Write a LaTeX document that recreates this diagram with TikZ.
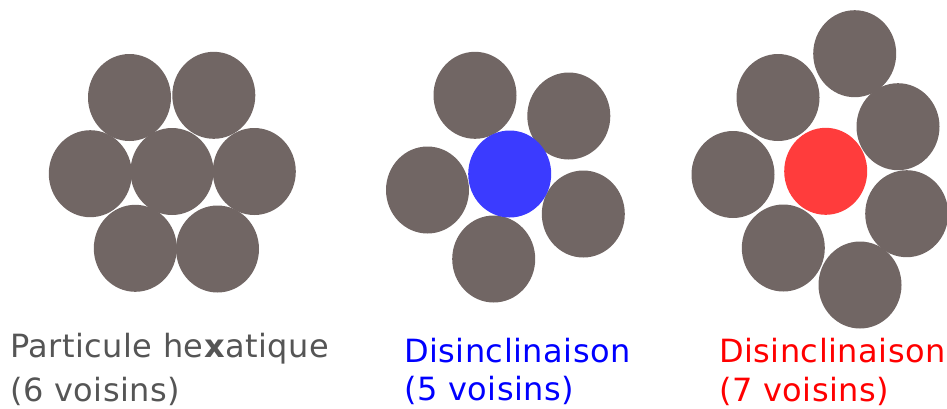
\documentclass[tikz,border=0pt]{standalone}
\usepackage{fontspec}
\setmainfont{DejaVu Sans}[LetterSpace=1.5]
\usetikzlibrary{shapes.geometric}
\definecolor{partgray}{HTML}{716664}
\definecolor{partblue}{HTML}{3B3BFF}
\definecolor{partred}{HTML}{FF3C3C}
\definecolor{txtgray}{HTML}{555555}
\definecolor{txtblue}{HTML}{0000FF}
\definecolor{txtred}{HTML}{FF0000}
\tikzset{
  particle/.style={ellipse, fill=partgray, draw=none, minimum width=83pt, minimum height=87pt, inner sep=0pt},
  lbl/.style={anchor=base west, inner sep=0pt, font=\fontsize{32}{38}\selectfont}
}
\begin{document}
\begin{tikzpicture}[x=1pt,y=-1pt]
\useasboundingbox (0,0) rectangle (947,408);
% hexatic
\node[particle] (h1) at (129.5,97.5) {};
\node[particle] (h2) at (213.8,95.3) {};
\node[particle] (h3) at (90.3,173.7) {};
\node[particle] (h4) at (172,171.5) {};
\node[particle] (h5) at (254.3,171.5) {};
\node[particle] (h6) at (135.3,248.3) {};
\node[particle] (h7) at (217.5,249) {};
% 5 neighbours
\node[particle] (f1) at (475,95.3) {};
\node[particle] (f2) at (568.8,116) {};
\node[particle] (f3) at (427.5,190) {};
\node[particle] (f4) at (583.3,214) {};
\node[particle] (f5) at (493.7,259) {};
\node[particle, fill=partblue] (fc) at (509.7,174) {};
% 7 neighbours
\node[particle] (s1) at (854.7,53.7) {};
\node[particle] (s2) at (778,97.5) {};
\node[particle] (s3) at (898,126.7) {};
\node[particle] (s4) at (733,174.5) {};
\node[particle] (s5) at (906.7,213.7) {};
\node[particle] (s6) at (783.3,248) {};
\node[particle] (s7) at (860,285) {};
\node[particle, fill=partred] (sc) at (825.7,171.3) {};
% labels
\node[lbl, text=txtgray] (t1a) at (10,357) {Particule he\textbf{x}atique};
\node[lbl, text=txtgray] (t1b) at (10,401) {(6 voisins)};
\node[lbl, text=txtblue] (t2a) at (404,362) {Disinclinaison};
\node[lbl, text=txtblue] (t2b) at (404,400) {(5 voisins)};
\node[lbl, text=txtred] (t3a) at (719,362) {Disinclinaison};
\node[lbl, text=txtred] (t3b) at (719,401) {(7 voisins)};
\end{tikzpicture}
\end{document}
